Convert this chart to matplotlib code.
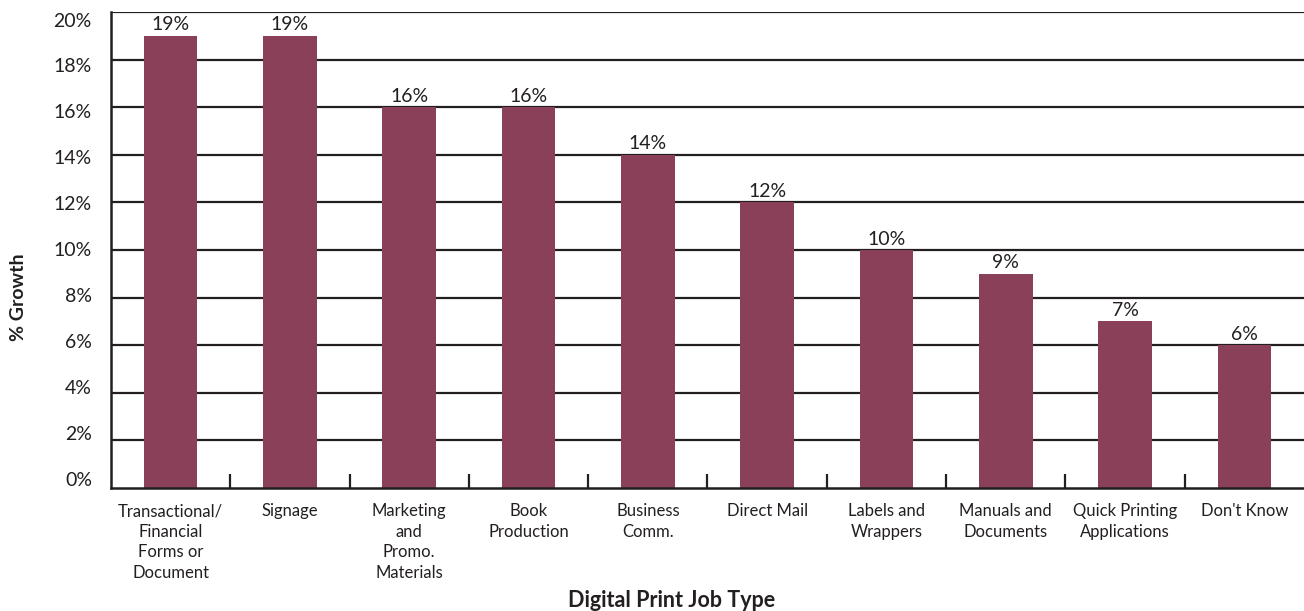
import matplotlib
matplotlib.use("Agg")
import matplotlib.pyplot as plt
import numpy as np

categories = [
    "Transactional/\nFinancial\nForms or\nDocument",
    "Signage",
    "Marketing\nand\nPromo.\nMaterials",
    "Book\nProduction",
    "Business\nComm.",
    "Direct Mail",
    "Labels and\nWrappers",
    "Manuals and\nDocuments",
    "Quick Printing\nApplications",
    "Don't Know",
]
growth = [19, 19, 16, 16, 14, 12, 10, 9, 7, 6]
y_ticks = [0, 2, 4, 6, 8, 10, 12, 14, 16, 18, 20]

bar_color = "#8B405A"
ink = "#231F20"

plt.rcParams["font.family"] = ["Lato", "DejaVu Sans"]

fig = plt.figure(figsize=(13.04, 6.11), dpi=100)
ax = fig.add_axes([0.0851, 0.2013, 0.9149, 0.7791])

x = np.arange(len(categories))
ax.bar(x, growth, width=0.45, color=bar_color, zorder=3)

for xi, v in zip(x, growth):
    ax.text(xi, v + 0.1, f"{v}%", ha="center", va="bottom",
            fontsize=14, color=ink, zorder=4)

ax.set_xlim(-0.5, len(categories) - 0.5)
ax.set_ylim(0, 20)

# horizontal gridlines
ax.set_yticks([])
for t in y_ticks[1:]:
    ax.axhline(t, color=ink, lw=1.6, zorder=1)

# y labels sit in a slightly tighter band than the gridlines
ytrans = ax.get_yaxis_transform()
for t in y_ticks:
    ax.text(-0.016, 0.31 + 0.9655 * t, f"{t}%", transform=ytrans,
            ha="right", va="center", fontsize=14, color=ink)

# category labels and separator ticks
ax.set_xticks(x)
ax.set_xticklabels(categories, fontsize=12, color=ink, linespacing=1.35)
ax.tick_params(axis="x", which="major", length=0, pad=11)
ax.set_xticks(np.arange(0.5, len(categories) - 0.5, 1), minor=True)
ax.tick_params(axis="x", which="minor", direction="in", length=10,
               width=1.6, color=ink)

for s in ["top", "right"]:
    ax.spines[s].set_visible(False)
for s in ["left", "bottom"]:
    ax.spines[s].set_color(ink)
    ax.spines[s].set_linewidth(1.8)
    ax.spines[s].set_zorder(5)

fig.text(0.014, 0.514, "% Growth", rotation=90, ha="center", va="center",
         fontsize=14, fontweight="bold", color=ink)
fig.text(0.515, 0.018, "Digital Print Job Type", ha="center", va="center",
         fontsize=15.5, fontweight="bold", color=ink)

fig.savefig("out.png", dpi=100)
